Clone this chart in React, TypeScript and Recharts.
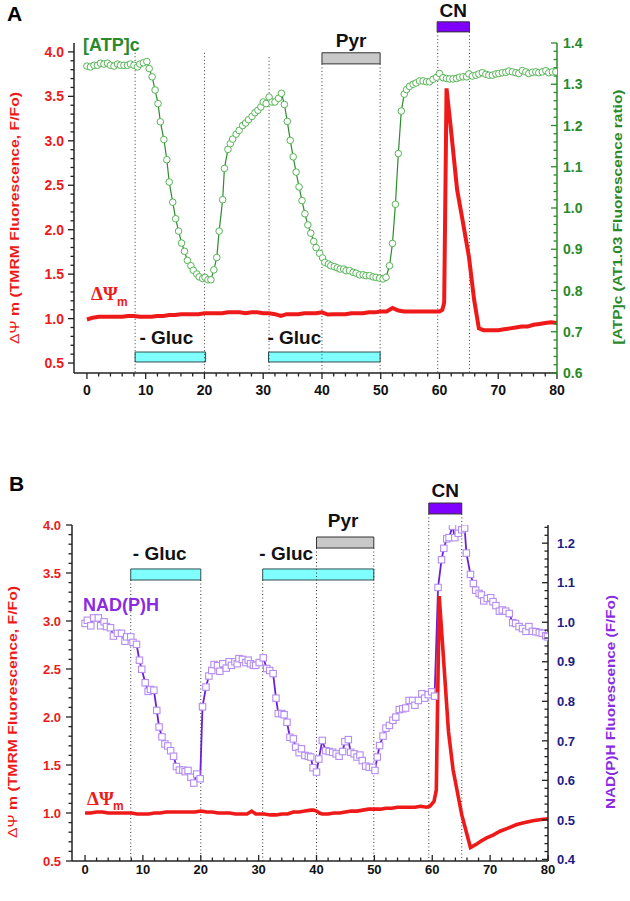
import { ComposedChart, Line, XAxis, YAxis, ReferenceArea, ReferenceLine } from 'recharts'

// [minutes, value] pairs
const atpA: [number, number][] = [
  [0, 1.344], [0.6, 1.342], [1.2, 1.346], [1.8, 1.346], [2.3, 1.351], [2.9, 1.349], [3.5, 1.351], [4.0, 1.346],
  [4.6, 1.344], [5.2, 1.349], [5.7, 1.346], [6.3, 1.346], [6.9, 1.346], [7.4, 1.349], [8.0, 1.346], [8.6, 1.342],
  [9.0, 1.349], [9.6, 1.352], [10.2, 1.355], [10.6, 1.338], [11.1, 1.318], [11.6, 1.286], [12.1, 1.253], [12.5, 1.209],
  [13.1, 1.166], [13.6, 1.117], [14.0, 1.063], [14.6, 1.014], [15.1, 0.974], [15.6, 0.944], [16.1, 0.915], [16.6, 0.895],
  [17.1, 0.873], [17.7, 0.86], [18.1, 0.849], [18.7, 0.84], [19.1, 0.833], [19.7, 0.829], [20.1, 0.832], [20.6, 0.826],
  [21.1, 0.826], [21.6, 0.85], [22.1, 0.88], [22.5, 0.944], [23.1, 1.02], [23.4, 1.096], [24.0, 1.142], [24.4, 1.156],
  [24.8, 1.167], [25.4, 1.179], [25.9, 1.188], [26.5, 1.2], [27.0, 1.206], [27.5, 1.214], [28.1, 1.222], [28.6, 1.231],
  [29.1, 1.237], [29.6, 1.245], [30.0, 1.257], [30.5, 1.253], [31.0, 1.269], [31.5, 1.257], [32.0, 1.257], [32.6, 1.266],
  [33.1, 1.278], [33.6, 1.251], [34.1, 1.21], [34.6, 1.164], [35.1, 1.124], [35.6, 1.087], [36.1, 1.051], [36.6, 1.018],
  [37.1, 0.986], [37.6, 0.959], [38.1, 0.939], [38.6, 0.919], [39.0, 0.904], [39.6, 0.89], [40.1, 0.879], [40.5, 0.868],
  [41.1, 0.864], [41.5, 0.86], [42.1, 0.858], [42.6, 0.855], [43.1, 0.852], [43.7, 0.852], [44.1, 0.848], [44.7, 0.848],
  [45.3, 0.844], [45.8, 0.842], [46.4, 0.838], [47.0, 0.838], [47.5, 0.836], [48.1, 0.836], [48.7, 0.833], [49.2, 0.832],
  [49.8, 0.83], [50.4, 0.828], [50.9, 0.832], [51.5, 0.86], [52.0, 0.914], [52.5, 1.009], [53.0, 1.132], [53.5, 1.235],
  [54.0, 1.276], [54.4, 1.287], [54.9, 1.295], [55.5, 1.3], [56.0, 1.303], [56.6, 1.308], [57.2, 1.308], [57.8, 1.306],
  [58.3, 1.306], [58.9, 1.312], [59.5, 1.317], [60.0, 1.326], [60.6, 1.316], [61.2, 1.314], [61.7, 1.313], [62.3, 1.313],
  [62.9, 1.314], [63.4, 1.317], [64.0, 1.318], [64.6, 1.318], [65.0, 1.325], [65.6, 1.32], [66.2, 1.322], [66.7, 1.325],
  [67.3, 1.328], [67.9, 1.324], [68.4, 1.322], [69.0, 1.322], [69.6, 1.325], [70.1, 1.326], [70.7, 1.328], [71.3, 1.329],
  [71.8, 1.332], [72.4, 1.33], [73.0, 1.328], [73.5, 1.326], [74.1, 1.333], [74.7, 1.33], [75.2, 1.326], [75.8, 1.329],
  [76.4, 1.33], [76.9, 1.328], [77.5, 1.33], [78.1, 1.333], [78.6, 1.328], [79.2, 1.33], [79.8, 1.33],
]

const psiA: [number, number][] = [
  [0, 0.99], [1, 1.01], [2, 1.02], [3, 1.02], [4, 1.02], [5, 1.02], [6, 1.02], [7, 1.03], [8, 1.03], [9, 1.02],
  [10, 1.02], [11, 1.02], [12, 1.03], [13, 1.03], [14, 1.04], [15, 1.04], [16, 1.05], [17, 1.05], [18, 1.05], [19, 1.05],
  [20, 1.06], [21, 1.06], [22, 1.06], [23, 1.06], [24, 1.07], [25, 1.07], [26, 1.07], [27, 1.06], [28, 1.07], [29, 1.07],
  [30, 1.06], [31, 1.06], [32, 1.05], [33, 1.03], [34, 1.05], [35, 1.05], [36, 1.05], [37, 1.06], [38, 1.06], [39, 1.06],
  [40, 1.07], [41, 1.045], [42, 1.05], [43, 1.05], [44, 1.05], [45, 1.06], [46, 1.06], [47, 1.06], [48, 1.07], [49, 1.07],
  [50, 1.08], [51, 1.08], [52, 1.12], [53, 1.09], [54, 1.08], [55, 1.08], [56, 1.08], [57, 1.08], [58, 1.08], [59, 1.08],
  [60, 1.08], [60.5, 1.1], [60.8, 1.18], [61.2, 3.59], [61.9, 3.16], [63, 2.45], [64, 2.08], [65, 1.7], [65.9, 1.21],
  [66.7, 0.89], [67.5, 0.87], [68, 0.87], [69, 0.87], [70, 0.87], [71, 0.88], [72, 0.89], [73, 0.9], [74, 0.91],
  [75, 0.91], [76, 0.93], [77, 0.94], [78, 0.95], [79, 0.96], [80, 0.95],
]

const nadhB: [number, number][] = [
  [0.0, 0.997], [0.4, 1.005], [1.0, 0.991], [1.5, 1.011], [2.3, 1.011], [2.7, 0.991], [3.3, 1.001], [3.7, 0.989],
  [4.4, 0.986], [4.9, 0.965], [5.6, 0.972], [6.3, 0.972], [6.9, 0.952], [7.2, 0.963], [7.9, 0.963], [8.3, 0.949],
  [8.9, 0.944], [9.4, 0.904], [9.8, 0.881], [10.4, 0.847], [10.9, 0.825], [11.3, 0.83], [11.9, 0.828], [12.4, 0.777],
  [12.8, 0.735], [13.3, 0.71], [13.8, 0.692], [14.3, 0.687], [14.8, 0.675], [15.3, 0.661], [15.8, 0.635], [16.3, 0.626],
  [16.9, 0.626], [17.3, 0.622], [17.8, 0.625], [18.3, 0.608], [18.8, 0.593], [19.3, 0.616], [19.9, 0.604], [20.3, 0.786],
  [20.9, 0.836], [21.4, 0.864], [21.9, 0.878], [22.3, 0.893], [22.9, 0.89], [23.3, 0.876], [23.8, 0.895], [24.4, 0.884],
  [24.9, 0.9], [25.3, 0.891], [25.9, 0.9], [26.3, 0.895], [26.6, 0.908], [27.2, 0.906], [27.8, 0.898], [28.2, 0.904],
  [28.6, 0.895], [29.1, 0.891], [29.5, 0.891], [30.1, 0.898], [30.8, 0.91], [31.4, 0.883], [31.9, 0.878], [32.5, 0.87],
  [33.0, 0.808], [33.4, 0.769], [34.0, 0.769], [34.4, 0.766], [34.9, 0.747], [35.4, 0.709], [36.0, 0.705], [36.4, 0.684],
  [37.0, 0.67], [37.4, 0.68], [38.0, 0.663], [38.6, 0.661], [39.0, 0.659], [39.4, 0.632], [40.0, 0.621], [40.4, 0.654],
  [41.0, 0.701], [41.6, 0.675], [42.2, 0.673], [42.8, 0.671], [43.4, 0.667], [43.9, 0.661], [44.5, 0.673], [44.9, 0.698],
  [45.5, 0.703], [45.9, 0.671], [46.5, 0.667], [47.0, 0.659], [47.5, 0.664], [47.9, 0.65], [48.5, 0.636], [49.1, 0.633],
  [49.7, 0.633], [50.1, 0.625], [50.5, 0.659], [50.9, 0.688], [51.5, 0.712], [52.0, 0.732], [52.6, 0.739], [53.2, 0.752],
  [53.7, 0.76], [54.3, 0.779], [54.9, 0.781], [55.4, 0.783], [56.0, 0.802], [56.6, 0.802], [57.0, 0.79], [57.6, 0.802],
  [58.2, 0.819], [58.7, 0.808], [59.3, 0.817], [59.9, 0.824], [60.4, 0.813], [61.0, 1.088], [61.6, 1.158], [62.0, 1.187],
  [62.5, 1.211], [62.9, 1.214], [63.5, 1.243], [63.9, 1.214], [64.5, 1.225], [65.1, 1.234], [65.6, 1.238], [65.9, 1.175],
  [66.6, 1.121], [67.1, 1.098], [67.5, 1.081], [68.1, 1.073], [68.5, 1.069], [68.9, 1.054], [69.5, 1.06], [70.1, 1.062],
  [70.5, 1.052], [71.0, 1.042], [71.6, 1.028], [72.1, 1.031], [72.7, 1.028], [73.3, 1.022], [73.9, 0.999], [74.4, 0.997],
  [75.0, 0.989], [75.6, 0.984], [76.2, 0.977], [76.7, 0.989], [77.3, 0.977], [77.9, 0.976], [78.5, 0.974], [79.0, 0.972],
  [79.6, 0.966], [79.9, 0.963],
]

const psiB: [number, number][] = [
  [0, 1.0], [1, 1.0], [2, 1.01], [3, 1.01], [4, 1.0], [5, 1.0], [6, 1.0], [7, 1.0], [8, 1.0], [9, 0.99], [10, 0.99],
  [11, 0.99], [12, 1.0], [13, 1.0], [14, 1.01], [15, 1.01], [16, 1.01], [17, 1.01], [18, 1.01], [19, 1.01], [20, 1.02],
  [21, 1.01], [22, 1.01], [23, 1.0], [24, 1.0], [25, 1.0], [26, 0.99], [27, 0.99], [28, 0.99], [28.8, 1.02], [29.5, 0.99],
  [30, 0.99], [31, 0.99], [32, 0.98], [33, 0.98], [34, 0.99], [35, 0.99], [36, 1.01], [37, 1.01], [38, 1.02], [39, 1.03],
  [39.5, 1.03], [40, 1.02], [40.5, 1.0], [41, 0.99], [42, 0.99], [43, 1.0], [44, 1.0], [45, 1.01], [46, 1.02], [47, 1.02],
  [48, 1.03], [49, 1.04], [50, 1.04], [51, 1.04], [52, 1.05], [53, 1.05], [54, 1.06], [55, 1.06], [56, 1.06], [57, 1.06],
  [58, 1.07], [59, 1.06], [59.6, 1.07], [60.3, 1.12], [60.7, 1.24], [61.2, 3.26], [61.9, 2.65], [62.8, 1.85], [63.6, 1.45],
  [65.1, 0.98], [66.6, 0.64], [67.5, 0.67], [68.5, 0.71], [69.4, 0.74], [70.5, 0.77], [71.7, 0.81], [73, 0.84],
  [74.6, 0.88], [76, 0.9], [77.4, 0.92], [78.5, 0.93], [80, 0.94],
]

// treatment windows [start, end] in minutes
const glucA: [number, number][] = [[8.2, 20.2], [30.9, 49.9]]
const pyrA: [number, number] = [40.0, 49.9]
const cnA: [number, number] = [59.6, 65.1]
const guidesA = [8.2, 20.0, 31.0, 40.0, 49.9, 59.7, 65.1]

const glucB: [number, number][] = [[7.9, 20.0], [30.7, 49.9]]
const pyrB: [number, number] = [40.0, 49.9]
const cnB: [number, number] = [59.4, 65.1]
const guidesB = [7.9, 20.0, 30.7, 40.0, 49.9, 59.4, 65.1]

const xLabels = [0, 10, 20, 30, 40, 50, 60, 70, 80]
const psiLabels = [0.5, 1.0, 1.5, 2.0, 2.5, 3.0, 3.5, 4.0]
const atpLabels = [0.6, 0.7, 0.8, 0.9, 1.0, 1.1, 1.2, 1.3, 1.4]
const nadhLabels = [0.4, 0.5, 0.6, 0.7, 0.8, 0.9, 1.0, 1.1, 1.2]

const toRows = (pairs: [number, number][]) => pairs.map(([t, v]) => ({ t, v }))

// minor tick positions between the labelled ones
const steps = (from: number, to: number, step: number) => {
  const n = Math.round((to - from) / step)
  return Array.from({ length: n + 1 }, (_, i) => Math.round((from + i * step) * 1000) / 1000)
}

const FONT = '"Liberation Sans", Arial, sans-serif'
const RED = '#ee1a1a'
const GREEN = '#2a8a2a'
const NAVY = '#1c1c86'
const PURPLE = '#8a2be2'
const AXIS = '#222'

const isLabel = (labels: number[], v: number) => labels.some((l) => Math.abs(l - v) < 1e-6)

const xTick = (dir: number, labelDy: number, size: number) => (props: any) => {
  const { x, y, payload } = props
  const major = isLabel(xLabels, payload.value)
  return (
    <g>
      <line x1={x} x2={x} y1={y} y2={y + dir * (major ? 6 : 3.5)} stroke={AXIS} strokeWidth={1.3} />
      {major && (
        <text x={x} y={y + labelDy} textAnchor="middle" fontSize={size} fontWeight="bold" fontFamily={FONT} fill="#111">
          {payload.value}
        </text>
      )}
    </g>
  )
}

const leftTick = (gap: number, size: number) => (props: any) => {
  const { x, y, payload } = props
  const major = isLabel(psiLabels, payload.value)
  return (
    <g>
      <line x1={x} x2={x - (major ? 6 : 3.5)} y1={y} y2={y} stroke={AXIS} strokeWidth={1.3} />
      {major && (
        <text x={x - gap} y={y} dy="0.36em" textAnchor="end" fontSize={size} fontWeight="bold" fontFamily={FONT} fill={RED}>
          {payload.value.toFixed(1)}
        </text>
      )}
    </g>
  )
}

const rightTick = (labels: number[], color: string, tickColor: string, gap: number, size: number) => (props: any) => {
  const { x, y, payload } = props
  const major = isLabel(labels, payload.value)
  return (
    <g>
      <line x1={x} x2={x - (major ? 6 : 3.5)} y1={y} y2={y} stroke={tickColor} strokeWidth={1.3} />
      {major && (
        <text x={x + gap} y={y} dy="0.36em" textAnchor="start" fontSize={size} fontWeight="bold" fontFamily={FONT} fill={color}>
          {payload.value.toFixed(1)}
        </text>
      )}
    </g>
  )
}

const squareDot = (p: any) => (
  <rect key={`sq-${p.index}`} x={p.cx - 3.2} y={p.cy - 3.2} width={6.4} height={6.4} fill="#fff" stroke="#b48cf2" strokeWidth={1.1} />
)

const barLabel = (value: string, offset: number, dx: number) => ({
  value,
  position: 'top' as const,
  offset,
  dx,
  fill: '#111',
  fontSize: 19,
  fontWeight: 'bold',
  fontFamily: FONT,
})

function PanelA() {
  const bottom = 0.388
  const tops = [3.99, 3.99, 3.94, 3.865, 3.865, 4.225, 4.225]
  return (
    <ComposedChart width={630} height={420} margin={{ top: 43, right: 0, bottom: 0, left: 0 }}>
      <XAxis
        type="number"
        dataKey="t"
        domain={[-2.2, 80]}
        allowDataOverflow
        ticks={steps(0, 80, 2)}
        interval={0}
        height={47}
        tickSize={0}
        tickMargin={0}
        tickLine={false}
        axisLine={{ stroke: AXIS, strokeWidth: 1.5 }}
        tick={xTick(1, 22, 14)}
      />
      <YAxis
        yAxisId="left"
        type="number"
        domain={[0.388, 4.1]}
        allowDataOverflow
        ticks={steps(0.5, 4.0, 0.1)}
        interval={0}
        width={74}
        tickSize={0}
        tickMargin={0}
        tickLine={false}
        axisLine={{ stroke: AXIS, strokeWidth: 1.5 }}
        tick={leftTick(10, 14)}
      />
      <YAxis
        yAxisId="right"
        orientation="right"
        type="number"
        domain={[0.6, 1.4]}
        allowDataOverflow
        ticks={steps(0.6, 1.4, 0.02)}
        interval={0}
        width={73}
        tickSize={0}
        tickMargin={0}
        tickLine={false}
        axisLine={{ stroke: GREEN, strokeWidth: 1.5 }}
        tick={rightTick(atpLabels, GREEN, GREEN, 6, 14)}
      />
      {guidesA.map((x, i) => (
        <ReferenceLine
          key={`ga${i}`}
          yAxisId="left"
          segment={[{ x, y: tops[i] }, { x, y: bottom }]}
          stroke="#333"
          strokeWidth={1}
          strokeDasharray="1 2.5"
          ifOverflow="visible"
        />
      ))}
      {glucA.map(([x1, x2], i) => (
        <ReferenceArea
          key={`gluA${i}`}
          yAxisId="left"
          x1={x1}
          x2={x2}
          y1={0.512}
          y2={0.624}
          fill="#80ffff"
          fillOpacity={1}
          stroke="#2f4f4f"
          strokeWidth={1}
          ifOverflow="visible"
          label={barLabel('- Gluc', 8, i === 0 ? -4 : -30)}
        />
      ))}
      <ReferenceArea
        yAxisId="left"
        x1={pyrA[0]}
        x2={pyrA[1]}
        y1={3.865}
        y2={3.99}
        fill="#c8c8c8"
        fillOpacity={1}
        stroke="#333"
        ifOverflow="visible"
        label={barLabel('Pyr', 6, 0)}
      />
      <ReferenceArea
        yAxisId="left"
        x1={cnA[0]}
        x2={cnA[1]}
        y1={4.225}
        y2={4.338}
        fill="#7f00ff"
        fillOpacity={1}
        stroke="#333"
        ifOverflow="visible"
        label={barLabel('CN', 5, 0)}
      />
      <Line
        yAxisId="right"
        data={toRows(atpA)}
        dataKey="v"
        type="linear"
        stroke="#2e8b2e"
        strokeWidth={1.2}
        dot={{ r: 3.3, stroke: '#55b555', strokeWidth: 1, fill: '#fff' }}
        isAnimationActive={false}
      />
      <Line
        yAxisId="left"
        data={toRows(psiA)}
        dataKey="v"
        type="linear"
        stroke={RED}
        strokeWidth={4}
        dot={false}
        isAnimationActive={false}
      />
    </ComposedChart>
  )
}

function PanelB() {
  const bottom = 0.5
  const tops = [3.427, 3.427, 3.427, 3.76, 3.76, 4.115, 4.115]
  return (
    <ComposedChart width={630} height={461} margin={{ top: 85, right: 0, bottom: 0, left: 0 }}>
      <XAxis
        type="number"
        dataKey="t"
        domain={[-2.25, 80]}
        allowDataOverflow
        ticks={steps(0, 80, 2)}
        interval={0}
        height={40}
        tickSize={0}
        tickMargin={0}
        tickLine={false}
        axisLine={{ stroke: AXIS, strokeWidth: 1.5 }}
        tick={xTick(-1, 13, 13)}
      />
      <YAxis
        yAxisId="left"
        type="number"
        domain={[0.5, 4.0]}
        allowDataOverflow
        ticks={steps(0.5, 4.0, 0.1)}
        interval={0}
        width={72}
        tickSize={0}
        tickMargin={0}
        tickLine={false}
        axisLine={{ stroke: AXIS, strokeWidth: 1.5 }}
        tick={leftTick(11, 13)}
      />
      <YAxis
        yAxisId="right"
        orientation="right"
        type="number"
        domain={[0.396, 1.246]}
        allowDataOverflow
        ticks={steps(0.4, 1.24, 0.02)}
        interval={0}
        width={82}
        tickSize={0}
        tickMargin={0}
        tickLine={false}
        axisLine={{ stroke: AXIS, strokeWidth: 1.5 }}
        tick={rightTick(nadhLabels, NAVY, AXIS, 9, 13)}
      />
      {guidesB.map((x, i) => (
        <ReferenceLine
          key={`gb${i}`}
          yAxisId="left"
          segment={[{ x, y: tops[i] }, { x, y: bottom }]}
          stroke="#333"
          strokeWidth={1}
          strokeDasharray="1 2.5"
          ifOverflow="visible"
        />
      ))}
      {glucB.map(([x1, x2], i) => (
        <ReferenceArea
          key={`gluB${i}`}
          yAxisId="left"
          x1={x1}
          x2={x2}
          y1={3.427}
          y2={3.542}
          fill="#80ffff"
          fillOpacity={1}
          stroke="#2f4f4f"
          strokeWidth={1}
          ifOverflow="visible"
          label={barLabel('- Gluc', 9, i === 0 ? -6 : -32)}
        />
      ))}
      <ReferenceArea
        yAxisId="left"
        x1={pyrB[0]}
        x2={pyrB[1]}
        y1={3.76}
        y2={3.875}
        fill="#c8c8c8"
        fillOpacity={1}
        stroke="#333"
        ifOverflow="visible"
        label={barLabel('Pyr', 10, -2)}
      />
      <ReferenceArea
        yAxisId="left"
        x1={cnB[0]}
        x2={cnB[1]}
        y1={4.115}
        y2={4.229}
        fill="#7f00ff"
        fillOpacity={1}
        stroke="#333"
        ifOverflow="visible"
        label={barLabel('CN', 6, 0)}
      />
      <Line
        yAxisId="right"
        data={toRows(nadhB)}
        dataKey="v"
        type="linear"
        stroke="#6a1fd8"
        strokeWidth={1.8}
        dot={squareDot}
        isAnimationActive={false}
      />
      <Line
        yAxisId="left"
        data={toRows(psiB)}
        dataKey="v"
        type="linear"
        stroke={RED}
        strokeWidth={3.6}
        dot={false}
        isAnimationActive={false}
      />
    </ComposedChart>
  )
}

function Annotations() {
  const bold = { fontFamily: FONT, fontWeight: 'bold' as const }
  const psiTitle = (cx: number, cy: number, len: number) => (
    <text transform={`translate(${cx},${cy}) rotate(-90)`} textAnchor="middle" dy="0.36em" fontSize={13} fill={RED} textLength={len} lengthAdjust="spacingAndGlyphs" {...bold}>
      <tspan fontWeight="normal">ΔΨ</tspan> m  (TMRM Fluorescence, F/Fo)
    </text>
  )
  return (
    <svg width={630} height={901} style={{ position: 'absolute', left: 0, top: 0, pointerEvents: 'none' }}>
      <text x={7} y={21} fontSize={21} fill="#000" {...bold}>A</text>
      <text x={9} y={491} fontSize={21} fill="#000" {...bold}>B</text>

      {psiTitle(14, 218, 252)}
      <text transform="translate(617,217) rotate(-90)" textAnchor="middle" dy="0.36em" fontSize={13} fill={GREEN} textLength={255} lengthAdjust="spacingAndGlyphs" {...bold}>
        [ATP]c (AT1.03 Fluorescence ratio)
      </text>
      {psiTitle(12, 712, 252)}
      <text transform="translate(610,702) rotate(-90)" textAnchor="middle" dy="0.36em" fontSize={13} fill={PURPLE} textLength={214} lengthAdjust="spacingAndGlyphs" {...bold}>
        NAD(P)H  Fluorescence (F/Fo)
      </text>

      <text x={83} y={51} fontSize={18} fill={GREEN} {...bold}>[ATP]c</text>
      <text x={91} y={300} fontSize={19} fill={RED} fontFamily='"Liberation Serif", serif' fontWeight="bold">ΔΨ</text>
      <text x={117} y={306} fontSize={12} fill={RED} {...bold}>m</text>

      <text x={83} y={611} fontSize={18} fill={PURPLE} {...bold}>NAD(P)H</text>
      <text x={87} y={805} fontSize={19} fill={RED} fontFamily='"Liberation Serif", serif' fontWeight="bold">ΔΨ</text>
      <text x={113} y={810} fontSize={12} fill={RED} {...bold}>m</text>
    </svg>
  )
}

export default function App() {
  return (
    <div style={{ position: 'absolute', left: 0, top: 0, width: 630, height: 901, background: '#fff', fontFamily: FONT }}>
      <div style={{ position: 'absolute', left: 0, top: 0 }}>
        <PanelA />
      </div>
      <div style={{ position: 'absolute', left: 0, top: 440 }}>
        <PanelB />
      </div>
      <Annotations />
    </div>
  )
}
